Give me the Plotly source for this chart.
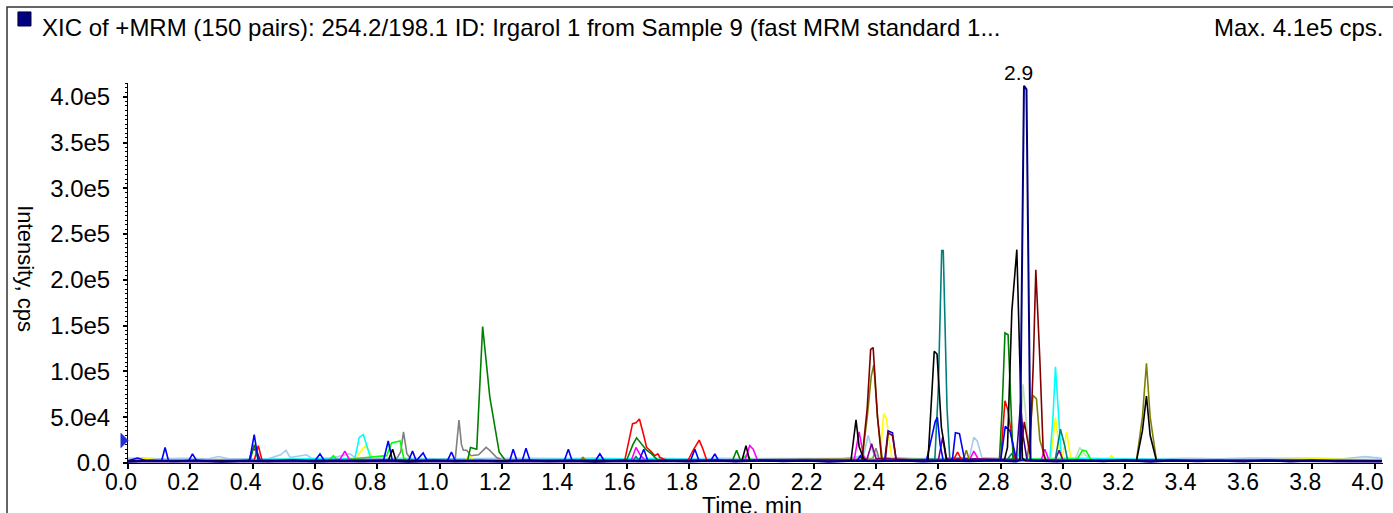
import plotly.graph_objects as go

# ---------------- axis tick labels ----------------
x_tickvals = [0.0, 0.2, 0.4, 0.6, 0.8, 1.0, 1.2, 1.4, 1.6, 1.8, 2.0,
              2.2, 2.4, 2.6, 2.8, 3.0, 3.2, 3.4, 3.6, 3.8, 4.0]
x_ticktext = ["0.0", "0.2", "0.4", "0.6", "0.8", "1.0", "1.2", "1.4", "1.6", "1.8", "2.0",
              "2.2", "2.4", "2.6", "2.8", "3.0", "3.2", "3.4", "3.6", "3.8", "4.0"]
y_tickvals = [0, 50000, 100000, 150000, 200000, 250000, 300000, 350000, 400000]
y_ticktext = ["0.0", "5.0e4", "1.0e5", "1.5e5", "2.0e5", "2.5e5", "3.0e5", "3.5e5", "4.0e5"]

title_text = "XIC of +MRM (150 pairs): 254.2/198.1 ID: Irgarol 1 from Sample 9 (fast MRM standard 1..."
max_text = "Max. 4.1e5 cps."
apex_label = "2.9"
apex_time = 2.878
apex_cps = 412000
marker_cps = 24600

# ---------------- XIC traces: [time (min), intensity (cps)] ----------------
lightgraygreen_xic = [[0.0, 4000], [0.5, 4500], [1.0, 4000], [1.5, 4300], [2.0, 4000], [2.5, 4200],
                      [2.85, 4500], [2.862, 20000], [2.872, 86000], [2.884, 40000], [2.894, 5000],
                      [3.04, 4500], [3.054, 17000], [3.07, 9000], [3.09, 4500], [3.5, 4200], [4.023, 4000]]

lightblue_xic = [[0.0, 5000], [0.05, 5500], [0.1, 4500], [0.18, 5200], [0.26, 4600], [0.29, 7000],
                 [0.32, 4800], [0.4, 5000], [0.45, 4500], [0.49, 9000], [0.507, 14000], [0.52, 6000],
                 [0.573, 9000], [0.59, 5000], [0.65, 5200], [0.712, 10000], [0.73, 5500], [0.8, 4800],
                 [0.9, 5200], [1.0, 4600], [1.1, 5000], [1.2, 4700], [1.3, 5200], [1.4, 4800],
                 [1.5, 5300], [1.6, 4600], [1.7, 5100], [1.8, 4700], [1.9, 5200], [2.0, 4800],
                 [2.1, 5000], [2.2, 4600], [2.3, 5200], [2.36, 8000], [2.375, 30000], [2.39, 12000],
                 [2.41, 6000], [2.5, 5000], [2.6, 4800], [2.7, 6000], [2.714, 28000], [2.725, 24000],
                 [2.74, 6000], [2.8, 5000], [2.9, 4600], [3.0, 5200], [3.1, 4800], [3.2, 5100],
                 [3.3, 4700], [3.4, 5200], [3.5, 4600], [3.6, 5300], [3.7, 4800], [3.8, 5100],
                 [3.9, 4700], [3.97, 7000], [4.023, 5000]]

gray_xic = [[0.0, 3500], [0.3, 3000], [0.6, 3600], [0.86, 3500], [0.875, 12000], [0.884, 34000],
            [0.895, 10000], [0.91, 3500], [1.05, 4000], [1.062, 47000], [1.07, 20000], [1.076, 14000],
            [1.087, 14000], [1.1, 8000], [1.125, 9000], [1.149, 17000], [1.16, 14000], [1.183, 6000],
            [1.2, 3500], [1.6, 3400], [2.0, 3600], [2.39, 5000], [2.4, 16000], [2.41, 5000],
            [2.8, 3500], [3.2, 3300], [3.6, 3600], [4.023, 3400]]

yellow_xic = [[0.0, 3000], [0.06, 5000], [0.1, 3000], [0.4, 3200], [0.73, 3500], [0.745, 12000],
              [0.763, 19000], [0.775, 12000], [0.79, 3500], [1.08, 3000], [1.095, 8000], [1.11, 3000],
              [1.6, 3200], [2.0, 3000], [2.413, 4000], [2.425, 54000], [2.434, 48000], [2.442, 25000],
              [2.452, 4000], [2.7, 3000], [2.96, 3500], [2.976, 50000], [2.99, 10000], [2.998, 6000],
              [3.012, 34000], [3.025, 5000], [3.14, 3000], [3.156, 8000], [3.17, 3000], [3.6, 3200],
              [3.82, 4500], [4.023, 3000]]

cyan_xic = [[0.0, 3500], [0.3, 3200], [0.728, 5000], [0.742, 28000], [0.755, 31000], [0.768, 18000],
            [0.78, 4000], [1.2, 3500], [1.64, 4500], [2.0, 3200], [2.5, 3400], [2.85, 4000],
            [2.862, 12000], [2.87, 4000], [2.958, 4000], [2.968, 50000], [2.976, 105000],
            [2.986, 50000], [2.995, 5000], [3.4, 3400], [4.023, 3500]]

lime_xic = [[0.0, 3000], [0.3, 2800], [0.645, 3000], [0.659, 8000], [0.672, 3000], [0.83, 8000],
            [0.846, 22000], [0.873, 24000], [0.885, 5000], [0.9, 3000], [1.5, 3000], [1.97, 3500],
            [1.985, 9000], [2.0, 3000], [2.5, 2800], [2.835, 4000], [2.845, 10000], [2.855, 4000],
            [3.045, 4000], [3.063, 14000], [3.075, 13000], [3.09, 3500], [3.6, 3000], [4.023, 2800]]

magenta_xic = [[0.0, 2500], [0.5, 2500], [0.68, 4000], [0.696, 13000], [0.71, 4000], [1.2, 2500],
               [1.615, 3000], [1.63, 17000], [1.645, 8000], [1.66, 3000], [1.98, 3000], [1.995, 19000],
               [2.006, 15000], [2.02, 3000], [2.33, 3000], [2.346, 34000], [2.36, 8000], [2.37, 3000],
               [2.7, 3000], [2.714, 13000], [2.73, 3000], [2.93, 3000], [2.942, 15000], [2.955, 3000],
               [3.5, 2500], [4.023, 2500]]

purple_xic = [[0.0, 2000], [0.388, 2500], [0.4, 15000], [0.412, 14000], [0.425, 2500], [1.0, 2000],
              [2.37, 2500], [2.386, 21000], [2.4, 5000], [2.6, 2500], [2.614, 28000], [2.625, 5000],
              [2.975, 3000], [2.988, 14000], [3.0, 3000], [4.023, 2000]]

olive_xic = [[0.0, 2500], [0.8, 2400], [1.45, 2500], [1.46, 6000], [1.47, 2500], [2.2, 2600],
             [2.355, 3000], [2.372, 50000], [2.385, 95000], [2.393, 107000], [2.405, 50000],
             [2.42, 5000], [2.43, 3000], [2.68, 3000], [2.69, 14000], [2.7, 3000], [2.885, 3000],
             [2.892, 25000], [2.904, 74000], [2.915, 70000], [2.926, 25000], [2.945, 3000],
             [3.236, 3000], [3.255, 50000], [3.268, 109000], [3.28, 50000], [3.3, 3000], [4.023, 2500]]

teal_xic = [[0.0, 2000], [0.8, 2200], [1.62, 2500], [1.63, 7000], [1.64, 2500], [2.5, 2200],
            [2.589, 4000], [2.6, 80000], [2.611, 232000], [2.616, 232000], [2.628, 60000],
            [2.637, 4000], [2.82, 3000], [2.835, 10000], [2.85, 3000], [2.975, 3000], [2.992, 37000],
            [3.005, 20000], [3.015, 3000], [4.023, 2000]]

red_xic = [[0.0, 2500], [0.3, 2200], [0.405, 3000], [0.418, 19000], [0.43, 3000], [0.8, 2500],
           [1.2, 2600], [1.594, 3000], [1.61, 30000], [1.619, 43000], [1.63, 44000], [1.641, 48000],
           [1.655, 30000], [1.664, 17000], [1.68, 12000], [1.69, 8000], [1.7, 10000], [1.707, 6000],
           [1.728, 3000], [1.797, 3000], [1.815, 15000], [1.833, 25000], [1.845, 15000],
           [1.857, 3000], [2.3, 2500], [2.648, 3000], [2.662, 12000], [2.675, 3000], [2.8, 3000],
           [2.814, 68000], [2.824, 57000], [2.835, 28000], [2.845, 5000], [2.86, 3000],
           [3.4, 2400], [3.7, 3500], [4.023, 2500]]

green_xic = [[0.0, 2500], [0.392, 3000], [0.405, 20000], [0.418, 3000], [0.8, 2600], [1.09, 3000],
             [1.099, 17000], [1.119, 15000], [1.138, 149000], [1.161, 72000], [1.191, 12000],
             [1.21, 3000], [1.6, 3000], [1.62, 20000], [1.632, 27500], [1.645, 22000], [1.664, 14000],
             [1.68, 10000], [1.7, 3000], [1.94, 3000], [1.953, 14000], [1.965, 3000], [2.3, 2500],
             [2.796, 3000], [2.805, 60000], [2.814, 142000], [2.824, 140000], [2.84, 5000],
             [2.86, 2500], [3.6, 2600], [4.023, 2500]]

blue_xic = [[0.0, 2500], [0.03, 5500], [0.06, 2500], [0.108, 2500], [0.119, 17000], [0.13, 2500],
            [0.195, 2500], [0.207, 10000], [0.22, 2500], [0.39, 2500], [0.405, 31000], [0.418, 3000],
            [0.5, 2500], [0.6, 2500], [0.616, 10000], [0.63, 2500], [0.82, 3000], [0.835, 24000],
            [0.848, 3000], [0.9, 2500], [0.913, 13000], [0.925, 2500], [0.947, 11000], [0.96, 2500],
            [1.025, 2500], [1.038, 12000], [1.05, 2500], [1.225, 2500], [1.236, 15000], [1.248, 2500],
            [1.265, 2500], [1.277, 16000], [1.29, 2500], [1.4, 2500], [1.413, 15000], [1.425, 2500],
            [1.5, 2500], [1.514, 10000], [1.528, 2500], [1.64, 2500], [1.655, 15000], [1.668, 2500],
            [1.805, 2500], [1.819, 15000], [1.832, 2500], [1.87, 2500], [1.883, 10000], [1.895, 2500],
            [2.2, 2500], [2.34, 2500], [2.35, 8000], [2.36, 2500], [2.428, 3000], [2.439, 35000],
            [2.453, 33000], [2.465, 3000], [2.562, 2500], [2.58, 30000], [2.59, 45000],
            [2.597, 50000], [2.606, 20000], [2.616, 2500], [2.645, 2500], [2.655, 33000],
            [2.668, 32000], [2.685, 2500], [2.8, 2500], [2.815, 40000], [2.83, 35000],
            [2.851, 3000], [3.0, 2500], [3.4, 2800], [3.6, 2300], [4.023, 2500]]

maroon_xic = [[0.0, 2000], [1.0, 2200], [2.355, 3000], [2.372, 60000], [2.383, 124000],
              [2.391, 126000], [2.405, 50000], [2.418, 5000], [2.43, 3000], [2.439, 33000],
              [2.453, 30000], [2.465, 3000], [2.862, 3000], [2.876, 45000], [2.884, 30000],
              [2.894, 10000], [2.905, 110000], [2.913, 211000], [2.926, 112000], [2.937, 10000],
              [2.945, 3000], [4.023, 2000]]

black_xic = [[0.0, 2000], [0.835, 2500], [0.849, 15000], [0.86, 2500], [1.97, 2500], [1.983, 19000],
             [1.995, 2500], [2.32, 3000], [2.336, 47000], [2.346, 18000], [2.36, 5000], [2.37, 2500],
             [2.567, 3000], [2.58, 90000], [2.587, 122000], [2.596, 119000], [2.61, 39000],
             [2.627, 3000], [2.812, 3000], [2.822, 17000], [2.836, 166000], [2.852, 233000],
             [2.87, 5000], [2.88, 2500], [3.236, 2500], [3.255, 35000], [3.268, 73000],
             [3.28, 30000], [3.3, 2500], [4.023, 2000]]

indigo_xic = [[0.0, 1500], [1.5, 1500], [2.85, 3000], [2.864, 65000], [2.872, 30000],
              [2.885, 3000], [4.023, 1500]]

navy_xic = [[0.0, 1500], [0.07, 2800], [0.15, 1800], [0.22, 2600], [0.3, 1400], [0.38, 2500],
            [0.45, 1900], [0.53, 2900], [0.6, 1600], [0.68, 2400], [0.75, 2000], [0.83, 2700],
            [0.9, 1500], [0.98, 2600], [1.05, 1800], [1.13, 2500], [1.2, 1600], [1.28, 2800],
            [1.35, 1900], [1.43, 2400], [1.5, 1500], [1.58, 2700], [1.65, 2000], [1.73, 2500],
            [1.8, 1700], [1.88, 2600], [1.95, 1600], [2.03, 2800], [2.1, 1900], [2.18, 2500],
            [2.25, 1500], [2.33, 2400], [2.4, 2000], [2.48, 2700], [2.55, 1600], [2.63, 2500],
            [2.7, 1800], [2.78, 2600], [2.85, 1700], [2.862, 3000], [2.875, 412000],
            [2.883, 408000], [2.896, 3000], [2.91, 2400], [2.98, 1600], [3.05, 2700], [3.13, 1800],
            [3.2, 2900], [3.28, 1500], [3.35, 2600], [3.43, 1900], [3.5, 2500], [3.58, 1600],
            [3.65, 2800], [3.73, 1700], [3.8, 2600], [3.88, 1900], [3.95, 2300], [4.023, 2000]]

# drawing order (bottom to top) and colours
series = [
    (lightgraygreen_xic, "#C0DCC0"),
    (lightblue_xic, "#A6CAF0"),
    (gray_xic, "#808080"),
    (yellow_xic, "#FFFF00"),
    (cyan_xic, "#00FFFF"),
    (lime_xic, "#00FF00"),
    (magenta_xic, "#FF00FF"),
    (purple_xic, "#800080"),
    (olive_xic, "#808000"),
    (teal_xic, "#008080"),
    (red_xic, "#FF0000"),
    (green_xic, "#008000"),
    (blue_xic, "#0000FF"),
    (maroon_xic, "#800000"),
    (black_xic, "#000000"),
    (indigo_xic, "#40008F"),
    (navy_xic, "#000080"),
]

fig = go.Figure()
for pts, col in series:
    t = [p[0] for p in pts]
    v = [p[1] for p in pts]
    w = 2.0 if col == "#000080" else 1.6
    fig.add_trace(go.Scatter(x=t, y=v, mode="lines", line=dict(color=col, width=w),
                             hoverinfo="skip"))

FONT = "Arial, 'Liberation Sans', sans-serif"

fig.update_layout(
    width=1393, height=513,
    margin=dict(l=128, r=10, t=83, b=50),
    paper_bgcolor="white", plot_bgcolor="white",
    showlegend=False,
    font=dict(family=FONT, size=24, color="black"),
    xaxis=dict(range=[0, 4.027], showgrid=False, zeroline=False, showline=True,
               linecolor="black", linewidth=1, ticks="outside", ticklen=5, tickwidth=1.5,
               tickcolor="black", tickmode="array", tickvals=x_tickvals, ticktext=x_ticktext,
               tickfont=dict(size=23), ticklabelshift=-7, ticklabelstandoff=-7),
    yaxis=dict(range=[0, 415000], showgrid=False, zeroline=False, showline=True,
               linecolor="black", linewidth=1, ticks="outside", ticklen=4, tickwidth=1.5,
               tickcolor="black", tickmode="array", tickvals=y_tickvals, ticktext=y_ticktext,
               tickfont=dict(size=24), ticklabelstandoff=8,
               minor=dict(tickmode="linear", tick0=0, dtick=5000, ticks="outside",
                          ticklen=2, tickcolor="black", tickwidth=1)),
)

# outer frame
fig.add_shape(type="rect", xref="paper", yref="paper", x0=-0.0964, x1=1.03, y0=-0.25, y1=1.2,
              line=dict(color="#333333", width=1.5), fillcolor="rgba(0,0,0,0)", layer="above")
# legend square
fig.add_shape(type="rect", xref="paper", yref="paper", x0=-0.0877, x1=-0.0773, y0=1.15, y1=1.187,
              line=dict(color="#000040", width=1), fillcolor="#000080")
# start marker on the y axis
fig.add_shape(type="path", xref="paper", yref="y", xsizemode="pixel", ysizemode="pixel",
              xanchor=0, yanchor=marker_cps, path="M -7,-7 L 0,0 L -7,7 Z",
              fillcolor="#1f2fd0", line=dict(color="#1f2fd0", width=1), layer="above")

fig.add_annotation(text=title_text, xref="paper", yref="paper", x=-0.0701, y=1.147,
                   xanchor="left", yanchor="middle", showarrow=False, font=dict(size=24))
fig.add_annotation(text=max_text, xref="paper", yref="paper", x=1.0016, y=1.147,
                   xanchor="right", yanchor="middle", showarrow=False, font=dict(size=24))
fig.add_annotation(text=apex_label, xref="x", yref="y", x=apex_time, y=apex_cps,
                   xanchor="center", yanchor="bottom", xshift=-6, showarrow=False,
                   font=dict(size=21))
fig.add_annotation(text="Intensity, cps", xref="paper", yref="paper", x=-0.0813, y=0.51,
                   xanchor="center", yanchor="middle", textangle=90, showarrow=False,
                   font=dict(size=22))
fig.add_annotation(text="Time, min", xref="paper", yref="paper", x=0.497, y=-0.114,
                   xanchor="center", yanchor="middle", showarrow=False, font=dict(size=23))

fig.write_html("out.html", config={"displayModeBar": False},
               post_script="document.body.style.margin='0';")
